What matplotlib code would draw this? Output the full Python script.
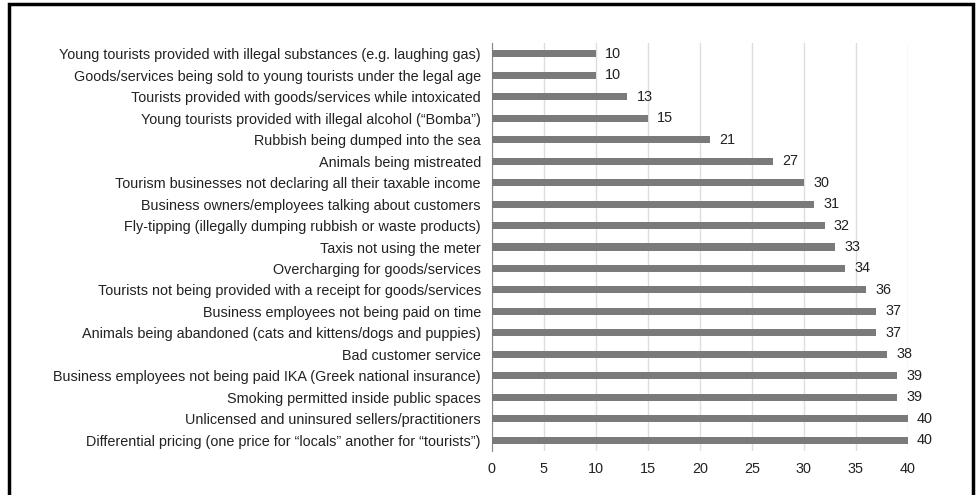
import matplotlib.pyplot as plt
from matplotlib.patches import Rectangle

plt.rcParams['font.family'] = ['Liberation Sans', 'DejaVu Sans']

categories = [
    'Young tourists provided with illegal substances (e.g. laughing gas)',
    'Goods/services being sold to young tourists under the legal age',
    'Tourists provided with goods/services while intoxicated',
    'Young tourists provided with illegal alcohol (\u201cBomba\u201d)',
    'Rubbish being dumped into the sea',
    'Animals being mistreated',
    'Tourism businesses not declaring all their taxable income',
    'Business owners/employees talking about customers',
    'Fly-tipping (illegally dumping rubbish or waste products)',
    'Taxis not using the meter',
    'Overcharging for goods/services',
    'Tourists not being provided with a receipt for goods/services',
    'Business employees not being paid on time',
    'Animals being abandoned (cats and kittens/dogs and puppies)',
    'Bad customer service',
    'Business employees not being paid IKA (Greek national insurance)',
    'Smoking permitted inside public spaces',
    'Unlicensed and uninsured sellers/practitioners',
    'Differential pricing (one price for \u201clocals\u201d another for \u201ctourists\u201d)',
]
values = [10, 10, 13, 15, 21, 27, 30, 31, 32, 33, 34, 36, 37, 37, 38, 39, 39, 40, 40]
xticks = [0, 5, 10, 15, 20, 25, 30, 35, 40]

fig = plt.figure(figsize=(9.76, 4.95), dpi=100)
ax = fig.add_axes([0.504, 0.089, 0.426, 0.824])

pos = list(range(len(categories)))
ax.barh(pos, values, height=0.33, color='#7a7a7a', zorder=3)
for p, v in zip(pos, values):
    ax.text(v + 0.9, p, str(v), va='center', ha='left', fontsize=10.4, color='#222222')

ax.set_yticks(pos)
ax.set_yticklabels(categories, fontsize=10.4, color='#222222')
ax.set_ylim(len(categories) - 0.5, -0.5)
ax.set_xlim(0, 40)
ax.set_xticks(xticks)
ax.set_xticklabels([str(t) for t in xticks], fontsize=10.4, color='#222222')
ax.tick_params(axis='both', length=0, pad=8)
ax.grid(axis='x', color='#dddddd', linewidth=1, zorder=0)
for s in ['top', 'right', 'bottom']:
    ax.spines[s].set_visible(False)
ax.spines['left'].set_color('#888888')

frame = Rectangle((9 / 976, -0.1), 964 / 976, 1.1 - 4 / 495, transform=fig.transFigure,
                  fill=False, edgecolor='black', linewidth=2.5, clip_on=False)
fig.patches.append(frame)

fig.savefig('out.png', dpi=100)
